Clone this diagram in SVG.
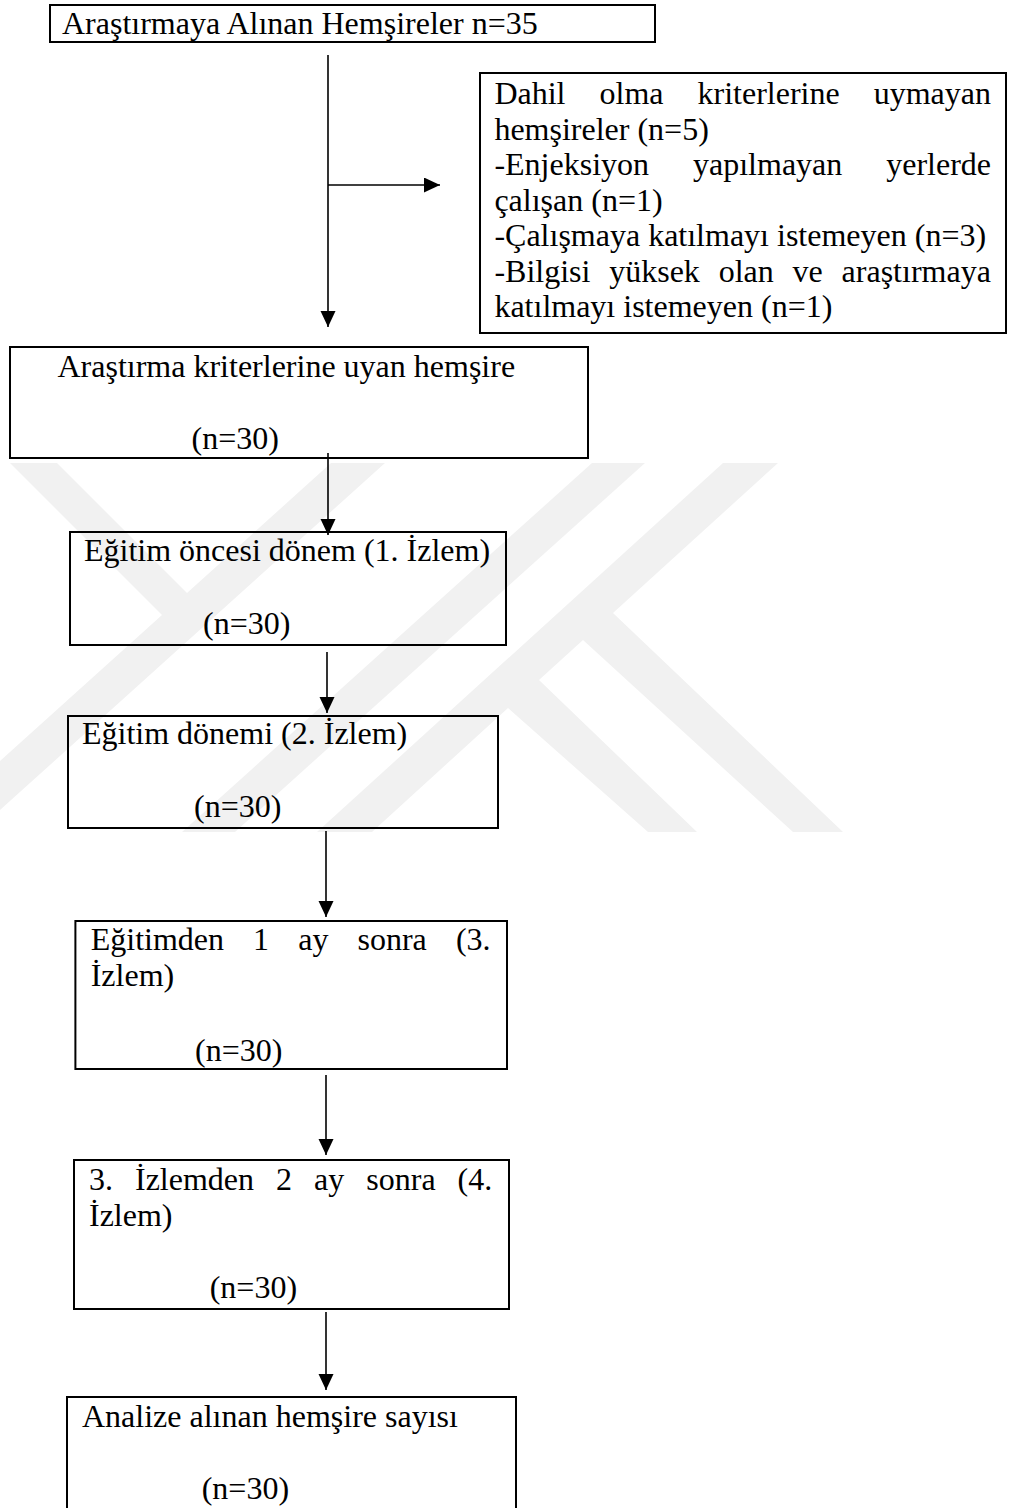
<svg xmlns="http://www.w3.org/2000/svg" width="1009" height="1508" viewBox="0 0 1009 1508">
  <style>
    .box { fill: none; stroke: #000; stroke-width: 2; }
    .t { font-family: "Liberation Serif", "Times New Roman", serif; font-size: 32px; fill: #000; }
    .conn { stroke: #000; stroke-width: 1.6; fill: none; }
    .wm { fill: #f1f1f1; stroke: none; }
  </style>
  <defs>
    <marker id="ah" markerUnits="userSpaceOnUse" markerWidth="18" markerHeight="18" refX="16" refY="7.5" orient="auto">
      <path d="M0,0 L16,7.5 L0,15 Z" fill="#000"/>
    </marker>
  </defs>
  <rect width="1009" height="1508" fill="#fff"/>

  <g id="watermark">
    <polygon class="wm" points="10,463 57,463 187,593 331,463 385,463 0,810 0,761 162,615"/>
    <polygon class="wm" points="592,463 645,463 235,832 182,832"/>
    <polygon class="wm" points="723,463 778,463 613,613 843,832 793,832 583,640 539,680 697,832 648,832 508,708 372,832 317,832"/>
  </g>

  <g id="connectors">
    <line class="conn" x1="328" y1="55" x2="328" y2="327" marker-end="url(#ah)"/>
    <line class="conn" x1="328" y1="185" x2="440" y2="185" marker-end="url(#ah)"/>
    <line class="conn" x1="328" y1="453" x2="328" y2="535" marker-end="url(#ah)"/>
    <line class="conn" x1="327" y1="652" x2="327" y2="713" marker-end="url(#ah)"/>
    <line class="conn" x1="326" y1="831" x2="326" y2="917" marker-end="url(#ah)"/>
    <line class="conn" x1="326" y1="1075" x2="326" y2="1155" marker-end="url(#ah)"/>
    <line class="conn" x1="326" y1="1312" x2="326" y2="1390" marker-end="url(#ah)"/>
  </g>

  <g id="n1">
    <rect class="box" x="50" y="5" width="605" height="37"/>
    <text class="t" x="62" y="34">Araştırmaya Alınan Hemşireler n=35</text>
  </g>

  <g id="n2">
    <rect class="box" x="480" y="73" width="526" height="260"/>
    <text class="t" y="104"><tspan x="494.4">Dahil</tspan><tspan x="599.5">olma</tspan><tspan x="697.5">kriterlerine</tspan><tspan x="873.7">uymayan</tspan></text>
    <text class="t" x="494.4" y="139.5">hemşireler (n=5)</text>
    <text class="t" y="175"><tspan x="494.4">-Enjeksiyon</tspan><tspan x="693">yapılmayan</tspan><tspan x="886.2">yerlerde</tspan></text>
    <text class="t" x="494.4" y="210.5">çalışan (n=1)</text>
    <text class="t" x="494.4" y="246">-Çalışmaya katılmayı istemeyen (n=3)</text>
    <text class="t" y="281.5"><tspan x="494.4">-Bilgisi</tspan><tspan x="609.2">yüksek</tspan><tspan x="718.7">olan</tspan><tspan x="792.6">ve</tspan><tspan x="841.6">araştırmaya</tspan></text>
    <text class="t" x="494.4" y="317">katılmayı istemeyen (n=1)</text>
  </g>

  <g id="n3">
    <rect class="box" x="10" y="347" width="578" height="111"/>
    <text class="t" x="57.5" y="377">Araştırma kriterlerine uyan hemşire</text>
    <text class="t" x="191.6" y="449">(n=30)</text>
  </g>

  <g id="n4">
    <rect class="box" x="70" y="532" width="436" height="113"/>
    <text class="t" x="84" y="561">Eğitim öncesi dönem (1. İzlem)</text>
    <text class="t" x="203" y="634">(n=30)</text>
  </g>

  <g id="n5">
    <rect class="box" x="68" y="716" width="430" height="112"/>
    <text class="t" x="82" y="744">Eğitim dönemi (2. İzlem)</text>
    <text class="t" x="194" y="817">(n=30)</text>
  </g>

  <g id="n6">
    <rect class="box" x="75.4" y="921" width="431.6" height="148"/>
    <text class="t" y="950"><tspan x="90.7">Eğitimden</tspan><tspan x="253.1">1</tspan><tspan x="298.2">ay</tspan><tspan x="357.5">sonra</tspan><tspan x="455.9">(3.</tspan></text>
    <text class="t" x="90.7" y="986">İzlem)</text>
    <text class="t" x="195" y="1061">(n=30)</text>
  </g>

  <g id="n7">
    <rect class="box" x="74" y="1160" width="435" height="149"/>
    <text class="t" y="1190"><tspan x="89">3.</tspan><tspan x="135">İzlemden</tspan><tspan x="276.1">2</tspan><tspan x="314.1">ay</tspan><tspan x="366.3">sonra</tspan><tspan x="457.6">(4.</tspan></text>
    <text class="t" x="89" y="1226">İzlem)</text>
    <text class="t" x="209.7" y="1298">(n=30)</text>
  </g>

  <g id="n8">
    <rect class="box" x="67" y="1397" width="449" height="130"/>
    <text class="t" x="82" y="1427">Analize alınan hemşire sayısı</text>
    <text class="t" x="201.7" y="1499">(n=30)</text>
  </g>
</svg>
